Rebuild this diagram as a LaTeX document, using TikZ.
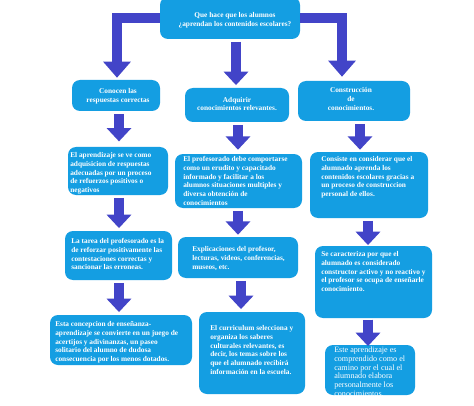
\documentclass[tikz,border=0pt]{standalone}
\usepackage{fontspec}
\setmainfont{Liberation Serif}
\usetikzlibrary{arrows.meta}
\definecolor{boxblue}{RGB}{20,158,226}
\definecolor{arrowblue}{RGB}{66,68,200}
\newcommand\flowbox[5]{\node[box, minimum width={(#4-#2)*0.75pt}, minimum height={(#5-#3)*0.75pt}] (#1) at ({(#2+#4)/2},{(#3+#5)/2}) {};}
\begin{document}
\begin{tikzpicture}[x=0.75pt,y=-0.75pt,
  box/.style={draw=none, fill=boxblue, rounded corners=6pt, inner sep=0pt},
  txt/.style={text=white, font=\fontsize{5.5}{6.5}\selectfont\bfseries, align=left, inner sep=0pt, anchor=north west},
  ctxt/.style={txt, align=center, anchor=center},
  rtxt/.style={txt, font=\fontsize{6.1}{6.5}\selectfont},
  barrow/.style={draw=arrowblue, line width=7.5pt, -{Triangle[width=18pt,length=10pt]}},
  tarrow/.style={draw=arrowblue, line width=7pt, line join=miter, -{Triangle[width=20pt,length=12pt]}}]
\useasboundingbox[fill=white] (0,0) rectangle (474,406);
% columns for arrows
\coordinate (xl0) at (117,0);
\coordinate (xm0) at (236,0);
\coordinate (xr0) at (342,0);
\coordinate (xl) at (119,0);
\coordinate (xm) at (238,0);
\coordinate (xm3) at (241,0);
\coordinate (xr1) at (360,0);
\coordinate (xr) at (368,0);
% boxes
\flowbox{top}{160}{-3}{300}{39}
\flowbox{c1}{72}{80}{160}{111}
\flowbox{c2}{185}{88}{289}{122}
\flowbox{c3}{298}{81}{410}{121}
\flowbox{r2a}{68}{147}{168}{195}
\flowbox{r2b}{175}{154}{302}{208}
\flowbox{r2c}{310}{152}{428}{218}
\flowbox{r3a}{65}{231}{172}{280}
\flowbox{r3b}{178}{237}{298}{278}
\flowbox{r3c}{315}{246}{432}{318}
\flowbox{r4a}{50}{315}{192}{365}
\flowbox{r4b}{199}{312}{305}{394}
\flowbox{r4c}{325}{345}{415}{395}
% texts
\node[ctxt] (ttop) at (235,20.5) {Que hace que los alumnos\\¿aprendan los contenidos escolares?};
\node[ctxt] (tc1) at (118,96.5) {Conocen las\\respuestas correctas};
\node[ctxt] (tc2) at (237,104) {Adquirir\\conocimientos relevantes.};
\node[ctxt] (tc3) at (351,99) {Construcción\\de\\conocimientos.};
\node[txt] (t2a) at (70,152.5) {El aprendizaje se ve como\\adquisicion de respuestas\\adecuadas por un proceso\\de refuerzos positivos o\\negativos};
\node[txt] (t2b) at (183,156.5) {El profesorado debe comportarse\\como un erudito y capacitado\\informado y facilitar a los\\alumnos situaciones multiples y\\diversa obtención de\\conocimientos};
\node[txt] (t2c) at (321,156.5) {Consiste en considerar que el\\alumnado aprenda los\\contenidos escolares gracias a\\un proceso de construccion\\personal de ellos.};
\node[txt] (t3a) at (71,238.5) {La tarea del profesorado es la\\de reforzar positivamente las\\contestaciones correctas y\\sancionar las erroneas.};
\node[txt] (t3b) at (192,246.5) {Explicaciones del profesor,\\lecturas, videos, conferencias,\\museos, etc.};
\node[txt] (t3c) at (321,251.5) {Se caracteriza por que el\\alumnado es considerado\\constructor activo y no reactivo y\\el profesor se ocupa de enseñarle\\conocimiento.};
\node[txt] (t4a) at (55,321.5) {Esta concepcion de enseñanza-\\aprendizaje se convierte en un juego de\\acertijos y adivinanzas, un paseo\\solitario del alumno de dudosa\\consecuencia por los menos dotados.};
\node[txt] (t4b) at (210,325.5) {El curriculum selecciona y\\organiza los saberes\\culturales relevantes, es\\decir, los temas sobre los\\que el alumnado recibirá\\información en la escuela.};
\node[rtxt] (t4c) at (334,347) {Este aprendizaje es\\comprendido como el\\camino por el cual el\\alumnado elabora\\personalmente los\\conocimientos.};
% hide the overflowing last text line below its box
\fill[white] (320,396) rectangle (420,406);
% top connectors
\draw[tarrow, shorten >=1.5pt] (top.west) -| (c1.north -| xl0);
\draw[tarrow, shorten >=3pt] (top.east) -| (c3.north -| xr0);
\draw[barrow, shorten <=2pt, shorten >=2pt] (top.south -| xm0) -- (c2.north -| xm0);
% row arrows
\draw[barrow, shorten <=2pt, shorten >=4pt] (c1.south -| xl) -- (r2a.north -| xl);
\draw[barrow, shorten <=2pt, shorten >=3pt] (c2.south -| xm) -- (r2b.north -| xm);
\draw[barrow, shorten <=2pt, shorten >=1.5pt] (c3.south -| xr1) -- (r2c.north -| xr1);
\draw[barrow, shorten <=2pt, shorten >=2pt] (r2a.south -| xl) -- (r3a.north -| xl);
\draw[barrow, shorten <=2pt, shorten >=1.5pt] (r2b.south -| xm) -- (r3b.north -| xm);
\draw[barrow, shorten <=2pt, shorten >=0.5pt] (r2c.south -| xr) -- (r3c.north -| xr);
\draw[barrow, shorten <=2pt, shorten >=2pt] (r3a.south -| xl) -- (r4a.north -| xl);
\draw[barrow, shorten <=2pt, shorten >=2pt] (r3b.south -| xm3) -- (r4b.north -| xm3);
\draw[barrow, shorten <=1pt, shorten >=-1pt] (r3c.south -| xr) -- (r4c.north -| xr);
\end{tikzpicture}
\end{document}
